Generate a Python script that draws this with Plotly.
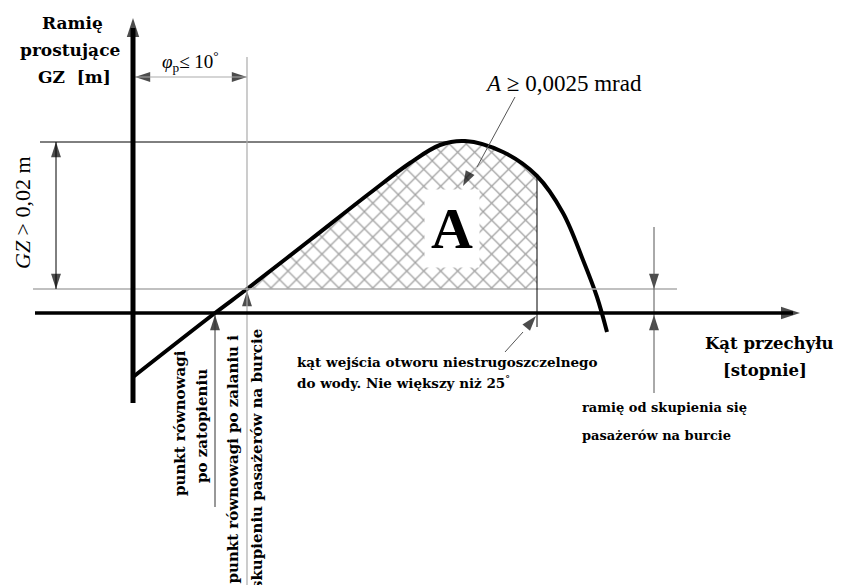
import plotly.graph_objects as go

# schematic units: origin where the two axes cross, x to the right, y up
# righting lever curve GZ(phi)
curve_x = [0, 82, 114, 177, 237, 277, 307, 332, 370, 404, 430, 450, 464, 474]
curve_y = [-64, 0, 24, 73, 120, 150, 168, 172, 161, 137, 100, 53, 16, -19]

# hatched area A: between the curve, the crowding-arm line and the flooding angle
area_x = [114, 177, 237, 277, 307, 332, 370, 404]
area_y = [24, 73, 120, 150, 168, 172, 161, 137]

phi_0 = 82      # equilibrium after flooding
phi_p = 114     # equilibrium after flooding and crowding of passengers
phi_f = 404     # angle of down-flooding opening
arm_p = 24      # heeling arm from passenger crowding
gz_max = 171    # maximum GZ

# arrow heads: tip x, tip y, direction (deg, clockwise from up), size
head_x = [0, 667, 2, phi_p, -77, -77, 330, 403, phi_0, phi_p, 521, 521]
head_y = [295, 0, 236, 236, gz_max, arm_p, 127, -3, -2, arm_p - 2, arm_p, -2]
head_a = [0, 90, -90, 90, 0, 180, -152, 40, 0, 0, 180, 0]
head_s = [20, 20, 16, 16, 16, 16, 16, 16, 16, 16, 16, 16]

GREY = '#ababab'
BOLD = 'DejaVu Serif'
SERIF = 'Liberation Serif'

fig = go.Figure()

# base of the hatched area, then the area itself
fig.add_trace(go.Scatter(x=[phi_p, phi_f], y=[arm_p, arm_p], mode='lines',
                         line=dict(width=0), hoverinfo='skip'))
fig.add_trace(go.Scatter(x=area_x, y=area_y, mode='lines', fill='tonexty',
                         line=dict(width=0, shape='spline'),
                         fillcolor='rgba(0,0,0,0)',
                         fillpattern=dict(shape='x', size=12, solidity=0.2,
                                          fgcolor='#444444', bgcolor='white'),
                         hoverinfo='skip'))


def seg(x0, y0, x1, y1, color='black', width=1):
    fig.add_shape(type='line', x0=x0, y0=y0, x1=x1, y1=y1,
                  line=dict(color=color, width=width), layer='above')


# helper lines
seg(-93, gz_max, 335, gz_max, 'black', 1)          # max GZ
seg(-100, arm_p, 544, arm_p, GREY, 1.5)            # crowding arm
seg(0, 236, phi_p, 236, GREY, 1)                   # phi_p <= 10 dimension
seg(phi_p, 256, phi_p, -280, GREY, 1.2)
seg(phi_f, 137, phi_f, -14, 'black', 1)
seg(-77, gz_max, -77, arm_p, 'black', 1)           # GZ > 0.02 dimension
seg(phi_0, 0, phi_0, -194, '#333333', 1)
seg(521, 86, 521, -80, '#555555', 1)
seg(382, 216, 344, 146, '#555555', 1)              # leader to A
seg(372, -39, 390, -19, '#555555', 1)              # leader to flooding angle

# axes
seg(0, -90, 0, 285, 'black', 5)
seg(-98, 0, 660, 0, 'black', 3.5)

# GZ curve
fig.add_trace(go.Scatter(x=curve_x, y=curve_y, mode='lines',
                         line=dict(color='black', width=4, shape='spline'),
                         hoverinfo='skip'))

# arrow heads
fig.add_trace(go.Scatter(x=head_x, y=head_y, mode='markers',
                         marker=dict(symbol='arrow', size=head_s, angle=head_a,
                                     color='black', line=dict(width=0)),
                         hoverinfo='skip'))


def label(x, y, text, size, family=BOLD, bold=True, **kw):
    fig.add_annotation(x=x, y=y, text=text, showarrow=False,
                       font=dict(family=family, size=size, color='black',
                                 weight='bold' if bold else 'normal'), **kw)


label(-61, 290, 'Ramię', 17)
label(-63, 263, 'prostujące', 17)
label(-59, 236, 'GZ  [m]', 17)
label(57, 252, '<i>φ</i><sub>p</sub>≤ 10<sup>°</sup>', 19, SERIF, False)
label(430, 230, '<i>A</i> ≥ 0,0025 mrad', 23, SERIF, False)
label(319, 85, 'A', 58, SERIF, True, bgcolor='white', borderpad=6)
label(-111, 100, '<i>GZ</i> > 0,02 m', 22, SERIF, False, textangle=-90)

label(47, -110, 'punkt równowagi', 15, textangle=-90)
label(69, -113, 'po zatopieniu', 15, textangle=-90)
label(99, -20, 'punkt równowagi po zalaniu i', 15, textangle=-90, yanchor='top')
label(124, -14, 'skupieniu pasażerów na burcie', 15, textangle=-90, yanchor='top')

label(162, -49, 'kąt wejścia otworu niestrugoszczelnego', 13.5, xanchor='left')
label(162, -69, 'do wody. Nie większy niż 25<sup>°</sup>', 13.5, xanchor='left')
label(636, -30, 'Kąt przechyłu', 16.5)
label(632, -57, '[stopnie]', 16.5)
label(447, -94, 'ramię od skupienia się', 13, xanchor='left')
label(447, -122, 'pasażerów na burcie', 13, xanchor='left')

# the page puts the plot 8 px from its top-left corner
fig.update_layout(
    width=837, height=577,
    margin=dict(l=0, r=0, t=0, b=0),
    paper_bgcolor='white', plot_bgcolor='white',
    showlegend=False,
    xaxis=dict(range=[-125, 712], visible=False, fixedrange=True),
    yaxis=dict(range=[-272, 305], visible=False, fixedrange=True),
)

fig.write_html("out.html")
